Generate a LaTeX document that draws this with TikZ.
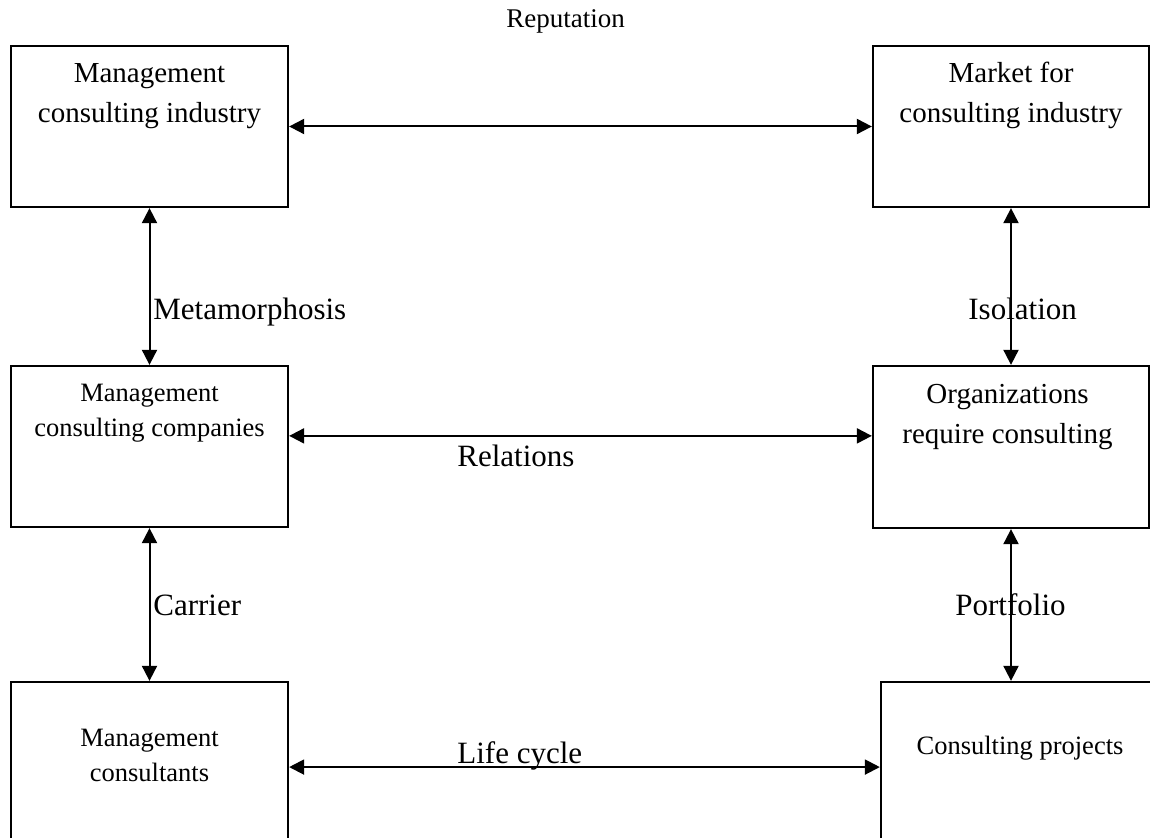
\documentclass[tikz,border=0pt]{standalone}
\usepackage{fontspec}
\setmainfont{Liberation Serif}
\usetikzlibrary{arrows.meta, calc, positioning}
\tikzset{
  mcbox/.style={rectangle, draw, line width=1.15pt, minimum width=138.5pt, minimum height=80.5pt, inner sep=0pt},
  mctext/.style={anchor=north, align=center, inner sep=0pt, font=\fontsize{14.5}{20}\selectfont},
  mcsmall/.style={mctext, font=\fontsize{13.25}{17.5}\selectfont},
  mclabel/.style={anchor=base west, inner sep=0pt, font=\fontsize{15.5}{18}\selectfont},
  mcarrow/.style={{Triangle[length=7.5pt, width=7.5pt]}-{Triangle[length=7.5pt, width=7.5pt]}, line width=1pt},
}
\begin{document}
\begin{tikzpicture}[x=0.5pt, y=-0.5pt]
  \path[use as bounding box, clip] (0,0) rectangle (1150,838);

  % Levels: industry / market, companies / organizations, consultants / projects.
  \node[mcbox] (ind) at (149.5,126.5) {};
  \node[mcbox, minimum width=138pt] (mkt) at (1011,126.5) {};
  \node[mcbox] (cmp) at (149.5,446.5) {};
  \node[mcbox, minimum width=138pt, minimum height=81pt] (org) at (1011,447) {};
  \node[mcbox] (cons) at (149.5,762.5) {};
  \node[mcbox, minimum width=135.5pt] (proj) at (1016.5,762.5) {};

  % Box texts (set at the top of each box).
  \node[mctext, below=9pt of ind.north] (ind-t) {Management\\consulting industry};
  \node[mctext, below=8.5pt of mkt.north] (mkt-t) {Market for\\consulting industry};
  \node[mcsmall, below=9.25pt of cmp.north] (cmp-t) {Management\\consulting companies};
  \node[mctext, below=9.5pt of org.north, xshift=-1.75pt] (org-t) {Organizations\\require consulting};
  \node[mcsmall, below=23.75pt of cons.north] (cons-t) {Management\\consultants};
  \node[mcsmall, below=27.5pt of proj.north, xshift=1.75pt] (proj-t) {Consulting projects};

  % Links.
  \draw[mcarrow] (ind.east) -- (mkt.west);
  \draw[mcarrow] ($(cmp.north east)!0.435!(cmp.south east)$) coordinate (rel-l) -- (rel-l -| org.west);
  \draw[mcarrow] ($(cons.north east)!0.528!(cons.south east)$) coordinate (lc-l) -- (lc-l -| proj.west);
  \draw[mcarrow] (ind.south) -- (cmp.north);
  \draw[mcarrow] (cmp.south) -- (cons.north);
  \draw[mcarrow] (mkt.south) -- (org.north);
  \draw[mcarrow] (org.south) -- (org.south |- proj.north);

  % Link labels.
  \node[mclabel, font=\fontsize{13.5}{16}\selectfont] (rep) at (506,28) {Reputation};
  \node[mclabel] (meta) at (153,320) {Metamorphosis};
  \node[mclabel] (iso) at (968,320) {Isolation};
  \node[mclabel] (rel) at (457,467) {Relations};
  \node[mclabel] (car) at (153,616) {Carrier};
  \node[mclabel] (port) at (955,616) {Portfolio};
  \node[mclabel] (life) at (457,763) {Life cycle};
\end{tikzpicture}
\end{document}
